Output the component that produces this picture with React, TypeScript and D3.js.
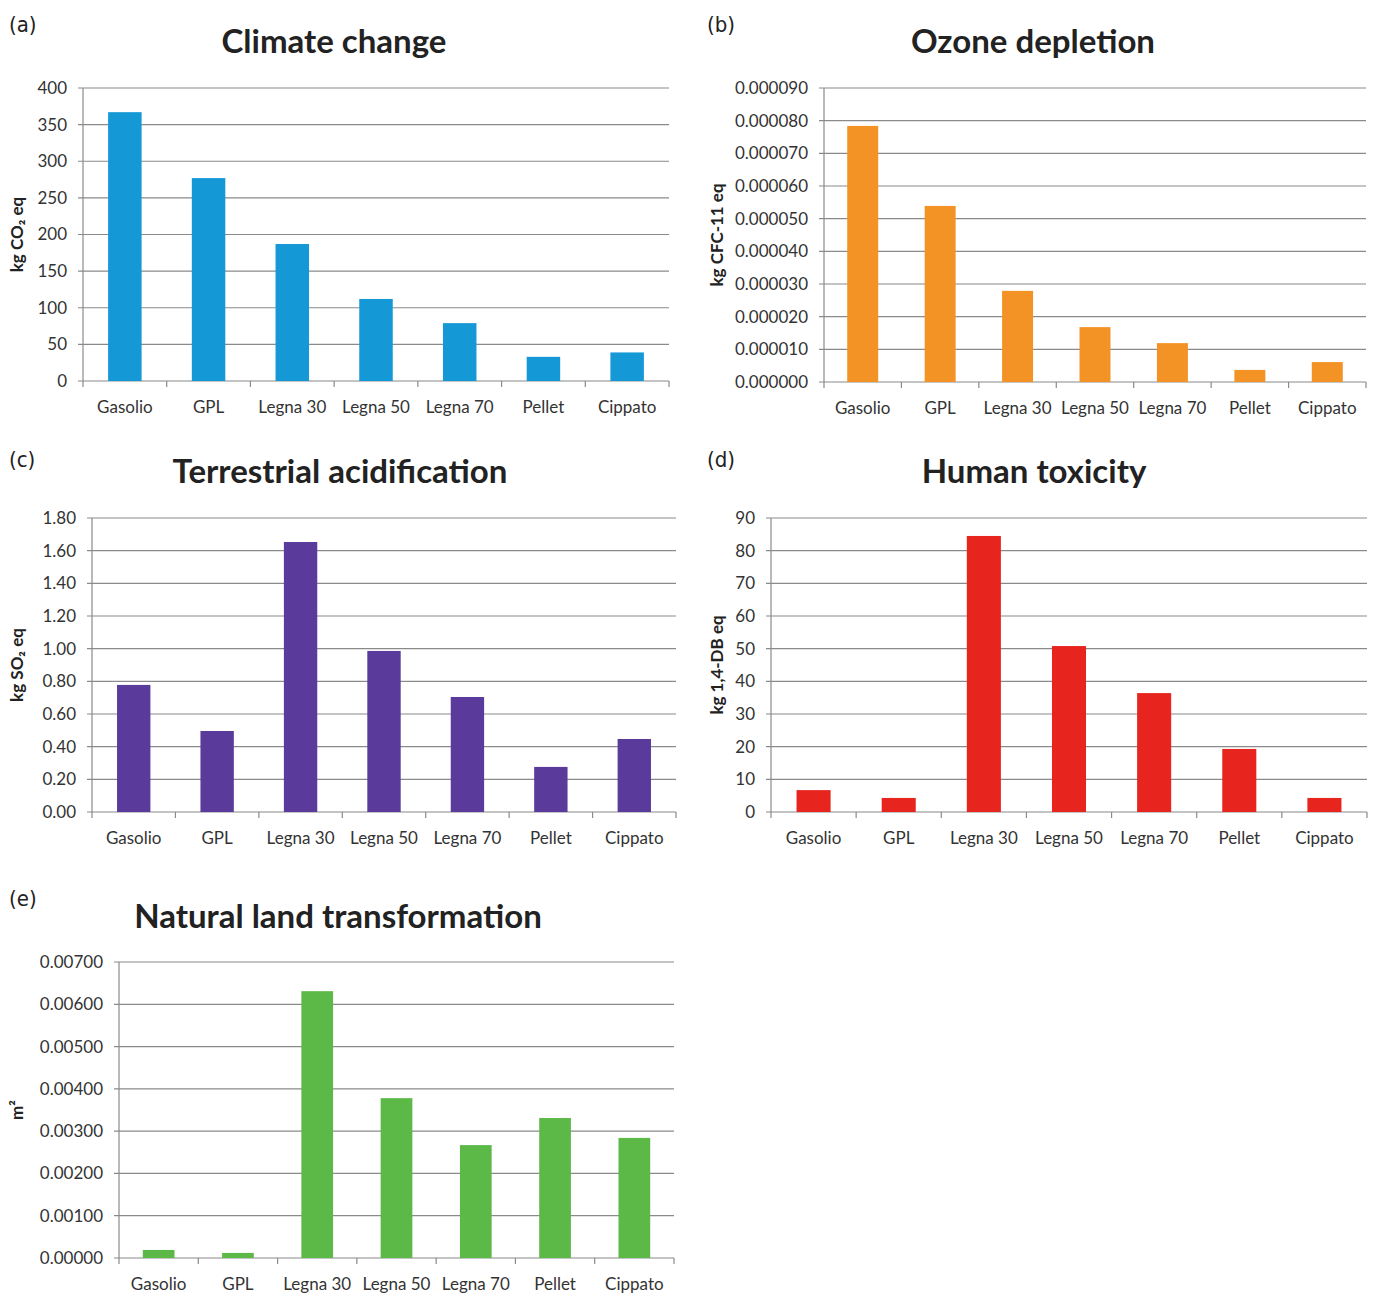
import React from "react";
import * as d3 from "d3";

const categories = ["Gasolio", "GPL", "Legna 30", "Legna 50", "Legna 70", "Pellet", "Cippato"];

const climateValues = [367, 277, 187, 112, 79, 33, 39];
const ozoneValues = [0.0000784, 0.0000539, 0.0000279, 0.0000168, 0.0000119, 0.0000037, 0.0000061];
const acidValues = [0.778, 0.496, 1.653, 0.986, 0.704, 0.276, 0.447];
const toxicityValues = [6.7, 4.3, 84.5, 50.8, 36.4, 19.3, 4.3];
const landValues = [0.00019, 0.00012, 0.00631, 0.00378, 0.00267, 0.00331, 0.00284];

type PanelSpec = {
  tag: string;
  title: string;
  yLabel: string;
  values: number[];
  yMax: number;
  tickCount: number;
  fmt: string;
  color: string;
  left: number;
  right: number;
  top: number;
  bottom: number;
  titleX: number;
  titleY: number;
  tagX: number;
  tagY: number;
  yLabelX: number;
};

const panels: PanelSpec[] = [
  { tag: "(a)", title: "Climate change", yLabel: "kg CO\u2082 eq", values: climateValues, yMax: 400, tickCount: 8, fmt: "d", color: "#1598d6",
    left: 83, right: 669, top: 88, bottom: 381, titleX: 334, titleY: 53, tagX: 9, tagY: 32, yLabelX: 23 },
  { tag: "(b)", title: "Ozone depletion", yLabel: "kg CFC-11 eq", values: ozoneValues, yMax: 0.00009, tickCount: 9, fmt: ".6f", color: "#f39325",
    left: 824, right: 1366, top: 88, bottom: 382, titleX: 1033, titleY: 53, tagX: 707, tagY: 32, yLabelX: 723 },
  { tag: "(c)", title: "Terrestrial acidification", yLabel: "kg SO\u2082 eq", values: acidValues, yMax: 1.8, tickCount: 9, fmt: ".2f", color: "#5a3b9c",
    left: 92, right: 676, top: 518, bottom: 812, titleX: 340, titleY: 483, tagX: 9, tagY: 467, yLabelX: 23 },
  { tag: "(d)", title: "Human toxicity", yLabel: "kg 1,4-DB eq", values: toxicityValues, yMax: 90, tickCount: 9, fmt: "d", color: "#e8241f",
    left: 771, right: 1367, top: 518, bottom: 812, titleX: 1034, titleY: 483, tagX: 707, tagY: 467, yLabelX: 723 },
  { tag: "(e)", title: "Natural land transformation", yLabel: "m\u00B2", values: landValues, yMax: 0.007, tickCount: 7, fmt: ".5f", color: "#5cb947",
    left: 119, right: 674, top: 962, bottom: 1258, titleX: 338, titleY: 928, tagX: 9, tagY: 906, yLabelX: 23 },
];

const FONT = "Lato, 'Open Sans', 'Noto Sans', sans-serif";
const TAGFONT = "'Liberation Sans Narrow', 'DejaVu Sans Condensed', 'DejaVu Sans', sans-serif";

function Panel({ p }: { p: PanelSpec }) {
  const x = d3.scaleBand<string>().domain(categories).range([p.left, p.right]).paddingInner(0.6).paddingOuter(0.3);
  const band = d3.scaleBand<string>().domain(categories).range([p.left, p.right]).padding(0);
  const y = d3.scaleLinear().domain([0, p.yMax]).range([p.bottom, p.top]);
  const ticks = y.ticks(p.tickCount);
  const f = d3.format(p.fmt);
  const gridColor = "#8a8a8a";
  const boundaries = categories.map((c) => band(c) as number).concat([p.right]);
  return (
    <g>
      <text x={p.tagX} y={p.tagY} fontFamily={TAGFONT} fontStretch="condensed" fontSize={22} fill="#222">{p.tag}</text>
      <text x={p.titleX} y={p.titleY} textAnchor="middle" fontFamily={FONT} fontWeight={700} fontSize={33} fill="#222">{p.title}</text>
      {ticks.map((t, i) => (
        <g key={"t" + i}>
          <line x1={p.left - 5} x2={p.right} y1={y(t)} y2={y(t)} stroke={gridColor} strokeWidth={1.2} />
          <text x={p.left - 16} y={y(t)} dy="0.35em" textAnchor="end" fontFamily={FONT} fontSize={17} fill="#333">{f(t)}</text>
        </g>
      ))}
      <line x1={p.left} x2={p.left} y1={p.top} y2={p.bottom} stroke={gridColor} strokeWidth={1.2} />
      {boundaries.map((b, i) => (
        <line key={"b" + i} x1={b} x2={b} y1={p.bottom} y2={p.bottom + 6} stroke={gridColor} strokeWidth={1.2} />
      ))}
      {categories.map((c, i) => (
        <rect key={"r" + c} x={x(c)} width={x.bandwidth()} y={y(p.values[i])} height={p.bottom - y(p.values[i])} fill={p.color} />
      ))}
      {categories.map((c) => (
        <text key={"c" + c} x={(band(c) as number) + band.bandwidth() / 2} y={p.bottom + 32} textAnchor="middle" fontFamily={FONT} fontSize={17} fill="#333">{c}</text>
      ))}
      <text transform={`translate(${p.yLabelX},${(p.top + p.bottom) / 2}) rotate(-90)`} textAnchor="middle" fontFamily={FONT} fontWeight={700} fontSize={17} fill="#222">{p.yLabel}</text>
    </g>
  );
}

export default function App() {
  return (
    <svg width={1384} height={1296} style={{ position: "absolute", left: 0, top: 0, background: "#fff" }}>
      <rect x={0} y={0} width={1384} height={1296} fill="#fff" />
      {panels.map((p) => (
        <Panel key={p.tag} p={p} />
      ))}
    </svg>
  );
}
